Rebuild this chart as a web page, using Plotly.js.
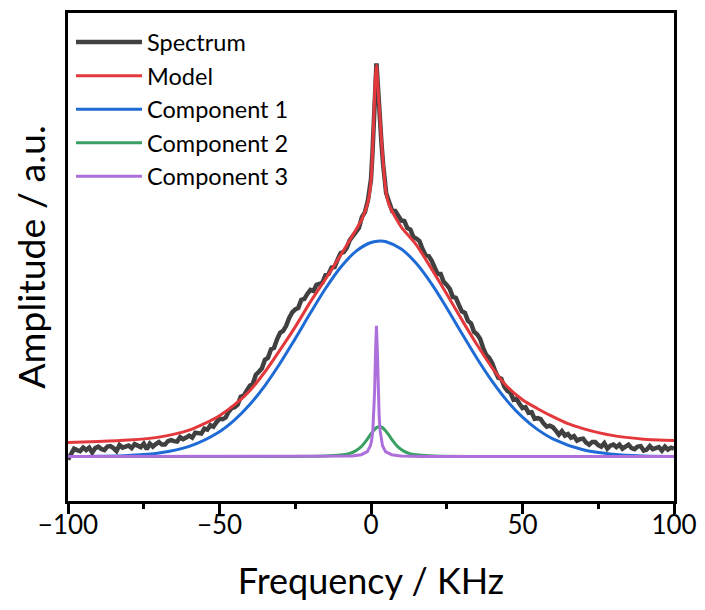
<!DOCTYPE html>
<html><head><meta charset="utf-8">
<script src="https://cdn.plot.ly/plotly-3.0.1.min.js"></script>
<style>body{margin:0;background:#fff}#chart{width:705px;height:610px}</style>
</head><body><div id="chart"></div>
<script>
const specX = [-100,-99,-98,-97,-96,-95,-94,-93,-92,-91,-90,-89,-88,-87,-86,-85,-84,-83,-82,-81,-80,-79,-78,-77,-76,-75,-74,-73,-72,-71,-70,-69,-68,-67,-66,-65,-64,-63,-62,-61,-60,-59,-58,-57,-56,-55,-54,-53,-52,-51,-50,-49,-48,-47,-46,-45,-44,-43,-42,-41,-40,-39,-38,-37,-36,-35,-34,-33,-32,-31,-30,-29,-28,-27,-26,-25,-24,-23,-22,-21,-20,-19,-18,-17,-16,-15,-14,-13,-12,-11,-10,-9,-8,-7,-6,-5,-4,-3,-2,-1,0,0.5,1.0,1.4,1.8,2.2,2.6,3.0,3.5,4,5,6,7,8,9,10,11,12,13,14,15,16,17,18,19,20,21,22,23,24,25,26,27,28,29,30,31,32,33,34,35,36,37,38,39,40,41,42,43,44,45,46,47,48,49,50,51,52,53,54,55,56,57,58,59,60,61,62,63,64,65,66,67,68,69,70,71,72,73,74,75,76,77,78,79,80,81,82,83,84,85,86,87,88,89,90,91,92,93,94,95,96,97,98,99,100];
const specY = [-0.03,0.02,0.08,0.065,0.055,0.09,0.065,0.09,0.04,0.085,0.10,0.075,0.065,0.10,0.105,0.085,0.055,0.115,0.09,0.10,0.11,0.085,0.125,0.11,0.095,0.13,0.075,0.13,0.10,0.125,0.145,0.12,0.12,0.155,0.165,0.155,0.15,0.195,0.175,0.19,0.21,0.19,0.24,0.235,0.23,0.28,0.27,0.315,0.30,0.345,0.38,0.375,0.39,0.45,0.485,0.495,0.52,0.60,0.61,0.66,0.71,0.73,0.82,0.85,0.885,0.97,0.99,1.075,1.09,1.175,1.24,1.26,1.31,1.39,1.445,1.475,1.49,1.57,1.58,1.63,1.67,1.66,1.72,1.73,1.745,1.82,1.83,1.895,1.90,1.975,2.04,2.05,2.09,2.17,2.215,2.245,2.29,2.40,2.45,2.57,2.78,3.05,3.45,3.78,3.94,3.75,3.52,3.35,3.12,2.93,2.64,2.55,2.46,2.46,2.41,2.365,2.36,2.29,2.275,2.20,2.185,2.16,2.08,2.02,2.01,1.965,1.895,1.83,1.83,1.75,1.72,1.68,1.60,1.59,1.52,1.455,1.44,1.36,1.335,1.25,1.225,1.18,1.09,1.02,0.99,0.935,0.855,0.79,0.78,0.70,0.66,0.64,0.57,0.58,0.53,0.485,0.495,0.44,0.445,0.38,0.385,0.375,0.33,0.30,0.31,0.295,0.26,0.22,0.255,0.21,0.225,0.19,0.205,0.16,0.175,0.18,0.14,0.12,0.145,0.145,0.115,0.10,0.135,0.08,0.11,0.12,0.095,0.12,0.08,0.105,0.12,0.085,0.075,0.10,0.105,0.06,0.07,0.105,0.075,0.085,0.095,0.06,0.10,0.07,0.09,0.08];

const modelX = [-100,-90,-80,-70,-60,-55,-50,-45,-40,-35,-30,-25,-20,-15,-10,-6,-3,-1,0,0.5,1,1.4,1.8,2.2,2.6,3,3.5,4,5,6,8,10,15,20,25,30,35,40,45,50,55,60,65,70,75,80,85,90,95,100];
const modelY = [0.14,0.15,0.165,0.195,0.265,0.33,0.41,0.52,0.66,0.85,1.07,1.30,1.55,1.78,2.02,2.22,2.38,2.55,2.76,3.05,3.45,3.78,3.92,3.75,3.55,3.38,3.15,2.95,2.64,2.52,2.40,2.30,2.12,1.88,1.63,1.37,1.12,0.89,0.70,0.57,0.48,0.40,0.33,0.28,0.24,0.21,0.19,0.175,0.165,0.16];

const comp1X = [-100,-90,-80,-70,-60,-50,-45,-40,-35,-30,-25,-20,-15,-10,-5,0,3,5,10,15,20,25,30,35,40,45,50,55,60,70,80,90,100];
const comp1Y = [0.001,0.003,0.011,0.036,0.102,0.249,0.367,0.521,0.712,0.935,1.182,1.438,1.684,1.897,2.056,2.145,2.16,2.153,2.080,1.934,1.730,1.489,1.233,0.983,0.754,0.556,0.395,0.270,0.178,0.068,0.023,0.006,0.002];

const comp2X = [-100,-27.2,-15.2,-10.2,-7.2,-5.2,-3.2,-2.2,-1.2,-0.2,0.8,1.8,2.8,3.8,4.8,5.8,6.8,7.8,8.8,10.8,12.8,15.8,20.8,32.8,100];
const comp2Y = [0,0.002,0.006,0.015,0.03,0.055,0.10,0.135,0.175,0.22,0.26,0.29,0.30,0.29,0.26,0.22,0.175,0.135,0.10,0.055,0.03,0.015,0.006,0.002,0];

const comp3X = [-100,-28.2,-13.2,-6.2,-3.2,-1.2,-0.2,0.2,0.6,0.9,1.2,1.5,1.8,2.1,2.4,2.7,3.0,3.4,3.8,4.8,6.8,9.8,16.8,31.8,100];
const comp3Y = [0,0,0.002,0.007,0.019,0.05,0.108,0.16,0.26,0.40,0.655,1.05,1.31,1.05,0.655,0.40,0.26,0.16,0.108,0.05,0.019,0.007,0.002,0,0];

const names = ['Spectrum','Model','Component 1','Component 2','Component 3'];
const colors = ['#404040','#e3383c','#1f6bd6','#3a9f63','#ac6fdb'];
const tickVals = [-100,-50,0,50,100];
const tickText = ['\u2212100','\u221250','0','50','100'];
const minorTickVals = [-75,-25,25,75];

const FONT = 'Lato, "Open Sans", sans-serif';
const traces = [
  {x: specX, y: specY, name: names[0], mode:'lines', line:{color:colors[0], width:4.5}},
  {x: modelX, y: modelY, name: names[1], mode:'lines', line:{color:colors[1], width:3, shape:'spline', smoothing:0.7}},
  {x: comp1X, y: comp1Y, name: names[2], mode:'lines', line:{color:colors[2], width:3, shape:'spline', smoothing:1}},
  {x: comp2X, y: comp2Y, name: names[3], mode:'lines', line:{color:colors[3], width:3, shape:'spline', smoothing:0.6}},
  {x: comp3X, y: comp3Y, name: names[4], mode:'lines', line:{color:colors[4], width:3}}
];
const layout = {
  width:705, height:610,
  margin:{l:68, r:31, t:13, b:109},
  paper_bgcolor:'#fff', plot_bgcolor:'#fff',
  font:{family:FONT, color:'#000'},
  showlegend:true,
  legend:{x:0.005, y:0.985, xanchor:'left', yanchor:'top', bgcolor:'rgba(0,0,0,0)', font:{size:23.5, family:FONT}, itemwidth:66, tracegroupgap:0},
  xaxis:{range:[-100,100], showgrid:false, zeroline:false, showline:true, linewidth:3, linecolor:'#000', mirror:true,
    ticks:'outside', ticklen:10, tickwidth:2.5, tickcolor:'#000', tickvals:tickVals, ticktext:tickText,
    tickfont:{size:26, family:FONT}, ticklabelstandoff:-11,
    minor:{tickvals:minorTickVals, ticks:'outside', ticklen:5, tickwidth:2.5, tickcolor:'#000', showgrid:false},
    title:{text:'Frequency / KHz', font:{size:36, family:FONT}, standoff:30}},
  yaxis:{range:[-0.445,4.445], showgrid:false, zeroline:false, showline:true, linewidth:3, linecolor:'#000', mirror:true,
    ticks:'', showticklabels:false,
    title:{text:'Amplitude / a.u.', font:{size:37.5, family:FONT}, standoff:8}}
};
Plotly.newPlot('chart', traces, layout, {displayModeBar:false});
</script></body></html>
